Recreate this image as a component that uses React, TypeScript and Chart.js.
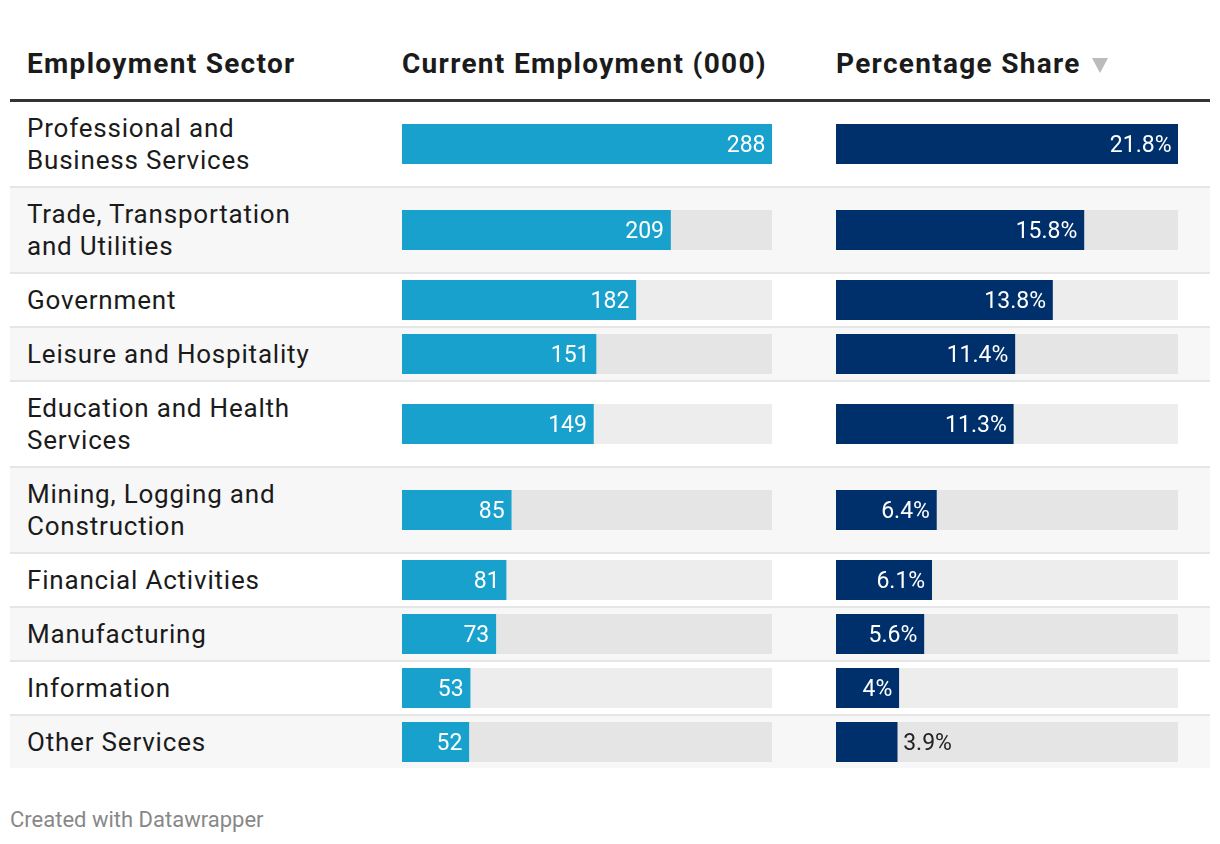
import React, { useEffect, useRef } from "react";
import { Chart, registerables } from "chart.js";

Chart.register(...registerables);

// ---- data ----
const sectors: string[] = [
  "Professional and Business Services",
  "Trade, Transportation and Utilities",
  "Government",
  "Leisure and Hospitality",
  "Education and Health Services",
  "Mining, Logging and Construction",
  "Financial Activities",
  "Manufacturing",
  "Information",
  "Other Services",
];
const employment: number[] = [288, 209, 182, 151, 149, 85, 81, 73, 53, 52];
const shareLabels: string[] = ["21.8%", "15.8%", "13.8%", "11.4%", "11.3%", "6.4%", "6.1%", "5.6%", "4%", "3.9%"];
const share: number[] = [21.8, 15.8, 13.8, 11.4, 11.3, 6.4, 6.1, 5.6, 4, 3.9];
const headers: string[] = ["Employment Sector", "Current Employment (000)", "Percentage Share"];
const footer = "Created with Datawrapper";

const FONT = "Roboto, 'Noto Sans', sans-serif";
const BLUE = "#18a1cd";
const NAVY = "#00306b";
const TEXT = "#1b1b1b";

const valueLabelPlugin = {
  id: "valueLabel",
  afterDatasetsDraw(chart: any) {
    const ctx = chart.ctx;
    const meta = chart.getDatasetMeta(0);
    const label: string = chart.options.plugins.valueLabel.text;
    meta.data.forEach((bar: any) => {
      const props = bar.getProps(["x", "y", "base"], true);
      const width = props.x - props.base;
      ctx.save();
      ctx.font = `23px ${FONT}`;
      ctx.textBaseline = "alphabetic";
      const tw = ctx.measureText(label).width;
      const baseY = props.y + 8;
      if (tw + 14 <= width) {
        ctx.fillStyle = "#ffffff";
        ctx.textAlign = "right";
        ctx.fillText(label, props.x - 6.5, baseY);
      } else {
        ctx.fillStyle = "#222222";
        ctx.textAlign = "left";
        ctx.fillText(label, props.x + 6, baseY);
      }
      ctx.restore();
    });
  },
};

function BarCell(props: { value: number; max: number; color: string; label: string; width: number }) {
  const ref = useRef<HTMLCanvasElement>(null);
  useEffect(() => {
    if (!ref.current) return;
    const chart = new Chart(ref.current, {
      type: "bar",
      data: {
        labels: [""],
        datasets: [
          {
            data: [props.value],
            backgroundColor: props.color,
            borderWidth: 0,
            barPercentage: 1,
            categoryPercentage: 1,
            grouped: false,
            order: 0,
          } as any,
          {
            data: [props.max],
            backgroundColor: "rgba(0,0,0,0.07)",
            borderWidth: 0,
            barPercentage: 1,
            categoryPercentage: 1,
            grouped: false,
            order: 1,
          } as any,
        ],
      },
      options: {
        indexAxis: "y",
        responsive: false,
        maintainAspectRatio: false,
        animation: false,
        events: [],
        layout: { padding: 0 },
        scales: {
          x: { display: false, min: 0, max: props.max },
          y: { display: false },
        },
        plugins: {
          legend: { display: false },
          tooltip: { enabled: false },
          valueLabel: { text: props.label },
        } as any,
      },
      plugins: [valueLabelPlugin],
    });
    return () => chart.destroy();
  }, []);
  return (
    <canvas
      ref={ref}
      width={props.width}
      height={40}
      style={{ width: props.width, height: 40, display: "block", flex: "none", margin: "6px 0" }}
    />
  );
}

export default function App() {
  const maxEmp = Math.max(...employment);
  const maxShare = Math.max(...share);
  const headerStyle: React.CSSProperties = {
    position: "absolute",
    top: 48,
    font: `bold 28px/32px ${FONT}`,
    letterSpacing: "1.3px",
    color: TEXT,
    whiteSpace: "nowrap",
  };
  return (
    <div
      style={{
        position: "absolute",
        left: 0,
        top: 0,
        width: 1220,
        height: 844,
        background: "#ffffff",
        fontFamily: FONT,
        overflow: "hidden",
      }}
    >
      <div style={{ ...headerStyle, left: 27 }}>{headers[0]}</div>
      <div style={{ ...headerStyle, left: 402 }}>{headers[1]}</div>
      <div style={{ ...headerStyle, left: 836, display: "flex", alignItems: "center" }}>
        <span>{headers[2]}</span>
        <span
          style={{
            display: "inline-block",
            marginLeft: 11,
            marginTop: 2,
            width: 0,
            height: 0,
            borderLeft: "8.5px solid transparent",
            borderRight: "8.5px solid transparent",
            borderTop: "15px solid #bbbbbb",
          }}
        />
      </div>
      <div style={{ position: "absolute", left: 10, top: 99, width: 1200, height: 3, background: "#333333" }} />
      <div style={{ position: "absolute", left: 10, top: 102, width: 1200 }}>
        {sectors.map((s, i) => (
          <div
            key={s}
            style={{
              display: "flex",
              alignItems: "center",
              minHeight: 52,
              background: i % 2 === 1 ? "#f7f7f7" : "#ffffff",
              borderBottom: i === sectors.length - 1 ? "none" : "2px solid #e6e6e6",
            }}
          >
            <div
              style={{
                width: 392,
                boxSizing: "border-box",
                padding: "10px 80px 10px 17px",
                font: `26px/32px ${FONT}`,
                letterSpacing: "0.8px",
                color: TEXT,
                flex: "none",
              }}
            >
              {s}
            </div>
            <BarCell value={employment[i]} max={maxEmp} color={BLUE} label={String(employment[i])} width={370} />
            <div style={{ width: 64, flex: "none" }} />
            <BarCell value={share[i]} max={maxShare} color={NAVY} label={shareLabels[i]} width={342} />
          </div>
        ))}
      </div>
      <div
        style={{
          position: "absolute",
          left: 10,
          top: 808,
          font: `22px/24px ${FONT}`,
          color: "#888888",
          whiteSpace: "nowrap",
        }}
      >
        {footer}
      </div>
    </div>
  );
}
